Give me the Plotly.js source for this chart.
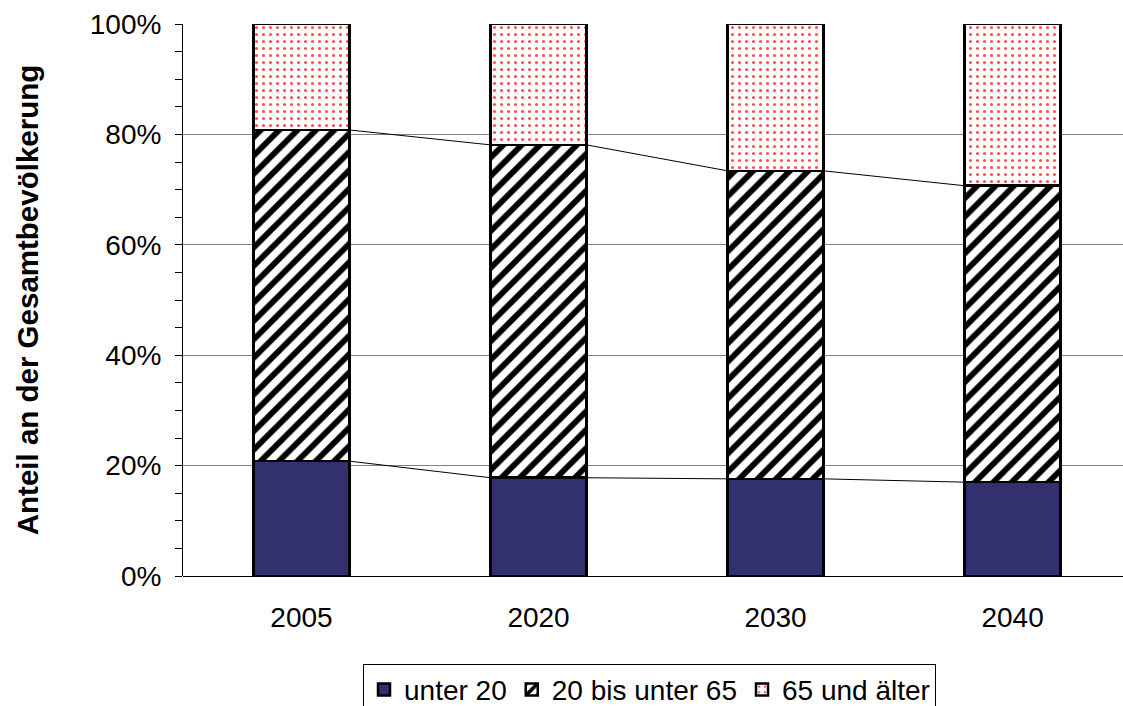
<!DOCTYPE html>
<html>
<head>
<meta charset="utf-8">
<script src="https://cdn.plot.ly/plotly-3.0.1.min.js"></script>
<style>html,body{margin:0;padding:0;background:#fff;}#chart{width:1123px;height:706px;}</style>
</head>
<body>
<div id="chart"></div>
<script>
// Data (percent of total population)
const years = ["2005", "2020", "2030", "2040"];
const unter20 = [20.8, 17.8, 17.6, 17.0];
const mittel = [60.0, 60.3, 55.8, 53.7];
const aelter = [19.2, 21.9, 26.6, 29.3];
const seriesNames = ["unter 20", "20 bis unter 65", "65 und älter"];

const FONT = "Arial, 'Liberation Sans', sans-serif";
const xs = years.map((_, i) => i);
const bargap = 0.595;
const hw = (1 - bargap) / 2;

const lineStyle = {color: "#000", width: 2.5};
const traces = [
  {type: "bar", name: seriesNames[0], x: xs, y: unter20,
   marker: {color: "#333070", line: lineStyle}},
  {type: "bar", name: seriesNames[1], x: xs, y: mittel,
   marker: {color: "#fff", line: lineStyle,
            pattern: {shape: "/", fgcolor: "#000", bgcolor: "#fff", size: 13, solidity: 0.45}}},
  {type: "bar", name: seriesNames[2], x: xs, y: aelter,
   marker: {color: "#fff", line: lineStyle,
            pattern: {shape: ".", fgcolor: "#ff4d4d", bgcolor: "#fff", size: 7, solidity: 0.15}}}
];

// Series lines connecting segment tops between adjacent bars
function seriesLine(cum) {
  const x = [], y = [];
  for (let i = 0; i < cum.length - 1; i++) {
    x.push(xs[i] + hw, xs[i + 1] - hw, null);
    y.push(cum[i], cum[i + 1], null);
  }
  return {type: "scatter", mode: "lines", x: x, y: y, showlegend: false,
          hoverinfo: "skip", line: {color: "#000", width: 1}};
}
const cum1 = unter20.slice();
const cum2 = unter20.map((v, i) => v + mittel[i]);
traces.push(seriesLine(cum1), seriesLine(cum2));

const layout = {
  width: 1123, height: 706,
  margin: {l: 183, r: 0, t: 24, b: 130, autoexpand: false},
  paper_bgcolor: "#fff", plot_bgcolor: "#fff",
  font: {family: FONT, size: 28, color: "#000"},
  barmode: "stack",
  bargap: bargap,
  showlegend: true,
  xaxis: {
    range: [-0.5, 3.466],
    tickvals: xs, ticktext: years,
    ticks: "", showgrid: false, zeroline: false,
    showline: false,
    ticklabelstandoff: 22,
    tickfont: {family: FONT, size: 28, color: "#000"}
  },
  yaxis: {
    range: [0, 100], dtick: 20, ticksuffix: "%",
    ticks: "outside", ticklen: 7, tickwidth: 1, tickcolor: "#000",
    showline: true, linecolor: "#000", linewidth: 1,
    showgrid: true, gridcolor: "#808080", gridwidth: 1,
    zeroline: true, zerolinecolor: "#000", zerolinewidth: 1,
    minor: {dtick: 5, ticks: "outside", ticklen: 7, tickcolor: "#000", showgrid: false},
    tickfont: {family: FONT, size: 28, color: "#000"},
    ticklabelstandoff: 8,
    automargin: false,
    title: {text: "Anteil an der Gesamtbevölkerung",
            font: {family: FONT, size: 29.5, color: "#000", weight: "bold"}, standoff: 42}
  },
  legend: {
    orientation: "h", x: 0.1915, xanchor: "left", y: -0.159, yanchor: "top",
    bordercolor: "#000", borderwidth: 1,
    font: {family: FONT, size: 28, color: "#000"},
    traceorder: "normal", itemwidth: 30, tracegroupgap: 0
  }
};

Plotly.newPlot("chart", traces, layout, {displayModeBar: false, staticPlot: true});
</script>
</body>
</html>
